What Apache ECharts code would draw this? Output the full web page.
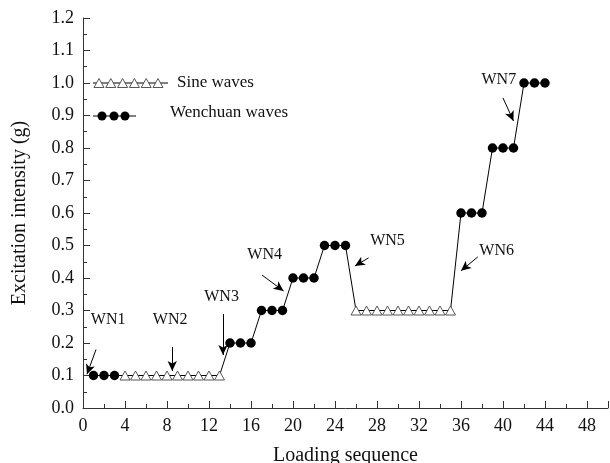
<!DOCTYPE html>
<html>
<head>
<meta charset="utf-8">
<script src="https://cdn.jsdelivr.net/npm/echarts@6/dist/echarts.min.js"></script>
<style>
  html, body { margin: 0; padding: 0; background: #fff; }
  #chart { width: 610px; height: 463px; }
</style>
</head>
<body>
<div id="chart"></div>
<script>
// Loading steps and peak excitation intensity (g) for each wave type
const wenchuanSeq = [1, 2, 3, 14, 15, 16, 17, 18, 19, 20, 21, 22, 23, 24, 25, 36, 37, 38, 39, 40, 41, 42, 43, 44];
const wenchuanPga = [0.1, 0.1, 0.1, 0.2, 0.2, 0.2, 0.3, 0.3, 0.3, 0.4, 0.4, 0.4, 0.5, 0.5, 0.5, 0.6, 0.6, 0.6, 0.8, 0.8, 0.8, 1.0, 1.0, 1.0];
const sineSeq = [4, 5, 6, 7, 8, 9, 10, 11, 12, 13, 26, 27, 28, 29, 30, 31, 32, 33, 34, 35];
const sinePga = [0.1, 0.1, 0.1, 0.1, 0.1, 0.1, 0.1, 0.1, 0.1, 0.1, 0.3, 0.3, 0.3, 0.3, 0.3, 0.3, 0.3, 0.3, 0.3, 0.3];

// White-noise scans: label, label anchor, arrow start, arrow end (data units)
const wnNames = ['WN1', 'WN2', 'WN3', 'WN4', 'WN5', 'WN6', 'WN7'];
const wnLabelAt = [[2.4, 0.27], [8.3, 0.27], [13.2, 0.342], [17.3, 0.47], [29.0, 0.515], [39.4, 0.485], [39.6, 1.01]];
const wnArrowFrom = [[1.24, 0.18], [8.5, 0.188], [13.33, 0.289], [17.05, 0.409], [27.2, 0.462], [37.6, 0.465], [40.0, 0.954]];
const wnArrowTo = [[0.38, 0.104], [8.5, 0.114], [13.33, 0.163], [19.1, 0.36], [25.9, 0.437], [36.0, 0.422], [41.0, 0.883]];

// Full loading path in sequence order
const pathPoints = wenchuanSeq.map((x, i) => [x, wenchuanPga[i]])
  .concat(sineSeq.map((x, i) => [x, sinePga[i]]))
  .sort((a, b) => a[0] - b[0]);

const FONT = '"Liberation Serif", "Times New Roman", serif';
const INK = '#111';

const chart = echarts.init(document.getElementById('chart'), null, { renderer: 'canvas' });

const axisCommon = {
  axisLine: { show: true, lineStyle: { color: '#333', width: 1 } },
  axisTick: { show: true, inside: true, length: 7, lineStyle: { color: '#333' } },
  minorTick: { show: true, splitNumber: 2, length: 4, lineStyle: { color: '#333' } },
  splitLine: { show: false },
  minorSplitLine: { show: false },
  nameLocation: 'middle',
  nameTextStyle: { fontFamily: FONT, fontSize: 20, color: INK }
};

chart.setOption({
  animation: false,
  backgroundColor: '#fff',
  grid: { left: 83, right: 2, top: 18, bottom: 55, outerBoundsMode: 'none', containLabel: false },
  xAxis: Object.assign({}, axisCommon, {
    type: 'value',
    min: 0, max: 50, interval: 4,
    name: 'Loading sequence',
    nameGap: 38,
    axisLabel: { fontFamily: FONT, fontSize: 18, color: INK, margin: 9, showMaxLabel: false }
  }),
  yAxis: Object.assign({}, axisCommon, {
    type: 'value',
    min: 0, max: 1.2, interval: 0.1,
    name: 'Excitation intensity (g)',
    nameGap: 53,
    axisLabel: { fontFamily: FONT, fontSize: 18, color: INK, margin: 9, formatter: v => v.toFixed(1) }
  }),
  series: [
    {
      name: 'path',
      type: 'line',
      data: pathPoints,
      showSymbol: false,
      symbol: 'none',
      lineStyle: { color: '#000', width: 1 },
      z: 2,
      markLine: {
        silent: true,
        symbol: ['none', 'arrow'],
        symbolSize: [7, 10],
        label: { show: false },
        lineStyle: { color: '#000', width: 1, type: 'solid' },
        data: wnArrowFrom.map((p, i) => [{ coord: p }, { coord: wnArrowTo[i] }])
      }
    },
    {
      name: 'Sine waves',
      type: 'scatter',
      data: sineSeq.map((x, i) => [x, sinePga[i]]),
      symbol: 'triangle',
      symbolSize: [10, 9],
      itemStyle: { color: '#fff', borderColor: '#444', borderWidth: 0.9, opacity: 1 },
      z: 3
    },
    {
      name: 'Wenchuan waves',
      type: 'scatter',
      data: wenchuanSeq.map((x, i) => [x, wenchuanPga[i]]),
      symbol: 'circle',
      symbolSize: 9.5,
      itemStyle: { color: '#000', opacity: 1 },
      z: 3
    }
  ]
});

// Annotation labels placed through the axes' own scales
const toPx = p => chart.convertToPixel({ gridIndex: 0 }, p);
const labelGraphics = wnNames.map((t, i) => {
  const p = toPx(wnLabelAt[i]);
  return {
    type: 'text', x: p[0], y: p[1], z: 10,
    style: { text: t, font: '16px ' + FONT, fill: INK, align: 'center', verticalAlign: 'middle' }
  };
});

// Legend samples
const legendGraphics = [];
legendGraphics.push({ type: 'line', shape: { x1: 93, y1: 83, x2: 168, y2: 83 }, style: { stroke: '#000', lineWidth: 1 }, z: 10 });
for (let k = 0; k < 6; k++) {
  const cx = 99 + k * 11.8;
  legendGraphics.push({
    type: 'polygon', z: 11,
    shape: { points: [[cx, 78.5], [cx + 5, 87.5], [cx - 5, 87.5]] },
    style: { fill: '#fff', stroke: '#444', lineWidth: 0.9 }
  });
}
legendGraphics.push({ type: 'text', x: 177, y: 83, z: 10, style: { text: 'Sine waves', font: '17px ' + FONT, fill: INK, verticalAlign: 'middle' } });
legendGraphics.push({ type: 'line', shape: { x1: 93, y1: 116, x2: 136, y2: 116 }, style: { stroke: '#000', lineWidth: 1 }, z: 10 });
[102, 114, 125].forEach(cx => legendGraphics.push({ type: 'circle', z: 11, shape: { cx: cx, cy: 116, r: 4.5 }, style: { fill: '#000' } }));
legendGraphics.push({ type: 'text', x: 170, y: 113, z: 10, style: { text: 'Wenchuan waves', font: '17px ' + FONT, fill: INK, verticalAlign: 'middle' } });

chart.setOption({ graphic: labelGraphics.concat(legendGraphics) });
</script>
</body>
</html>
